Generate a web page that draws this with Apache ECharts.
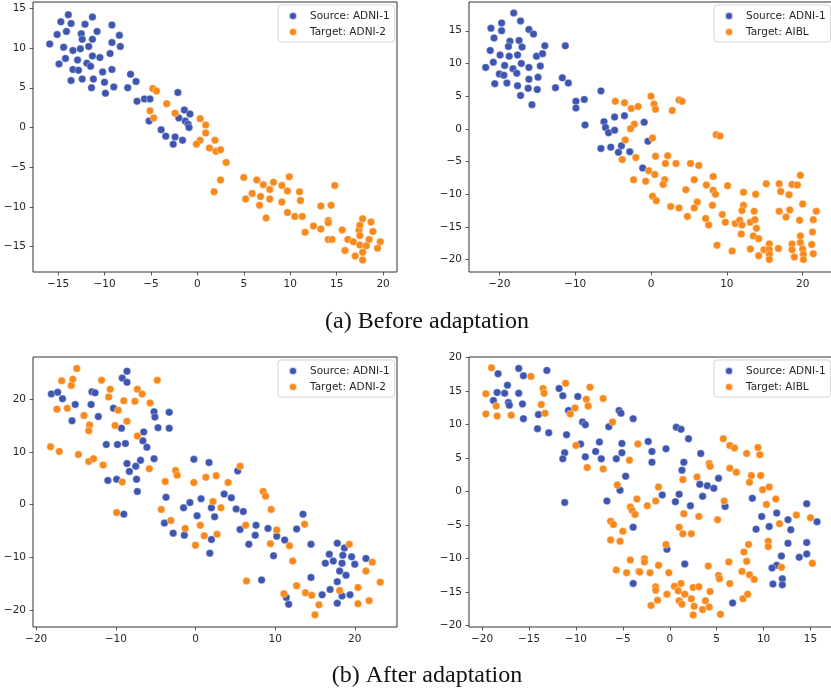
<!DOCTYPE html>
<html>
<head>
<meta charset="utf-8">
<title>Before / after adaptation</title>
<script src="https://cdn.jsdelivr.net/npm/echarts@6/dist/echarts.min.js"></script>
<style>
  html, body { margin: 0; padding: 0; background: #fff; }
  #chart { width: 831px; height: 692px; }
</style>
</head>
<body>
<div id="chart"></div>
<script>
var SRC = 'Source: ADNI-1';
var TGT_ADNI2 = 'Target: ADNI-2';
var TGT_AIBL = 'Target: AIBL';
var BLUE = '#3e56b0';
var ORANGE = '#f8891c';

// (a) before adaptation, ADNI-1 -> ADNI-2
var beforeAdni2Src = [[-15.9,10.5],[-14.7,13.3],[-15.1,11.7],[-13.9,14.2],[-13.6,13.1],[-14.1,12.1],[-14.4,10.1],[-13.4,9.7],[-14.9,8.0],[-14.2,8.7],[-12.9,8.5],[-13.4,7.3],[-12.8,7.2],[-13.6,5.9],[-12.6,9.9],[-12.5,11.8],[-12.4,11.1],[-12.1,13.0],[-11.3,13.9],[-10.8,12.1],[-11.3,11.1],[-11.7,10.2],[-11.9,8.1],[-11.5,7.7],[-11.3,9.0],[-12.4,6.1],[-11.2,6.1],[-11.4,5.0],[-10.5,8.8],[-10.2,7.0],[-10.0,5.7],[-9.9,4.3],[-9.2,12.9],[-9.2,10.7],[-9.4,9.3],[-9.2,7.3],[-9.0,5.1],[-8.4,11.6],[-8.3,10.2],[-7.5,5.0],[-7.2,6.7],[-6.6,5.8],[-6.5,3.3],[-5.7,3.6],[-5.1,3.6],[-5.2,0.8],[-3.9,-0.3],[-3.4,-1.1],[-2.6,-2.1],[-2.4,-1.2],[-2.1,4.4],[-2.0,1.2],[-1.4,2.2],[-0.8,1.7],[-1.3,0.8],[-1.0,0.4],[-0.9,0.0],[-1.6,-1.6]];
var beforeAdni2Tgt = [[-4.8,4.9],[-4.4,4.6],[-3.3,3.0],[-5.1,2.1],[-4.7,1.2],[-2.4,1.8],[0.3,1.1],[0.3,-1.6],[-0.1,-2.1],[0.9,0.3],[0.9,-0.7],[1.3,-2.6],[1.9,-1.6],[2.0,-3.0],[2.5,-2.8],[3.1,-4.4],[2.5,-6.6],[1.8,-8.1],[5.0,-6.3],[5.2,-9.0],[5.9,-8.3],[6.4,-6.6],[6.7,-9.8],[6.8,-8.7],[7.1,-7.2],[7.4,-11.4],[7.8,-7.8],[7.8,-9.0],[8.2,-6.9],[9.1,-7.3],[9.1,-9.4],[9.7,-8.0],[9.9,-6.2],[9.7,-10.7],[10.5,-11.2],[11.0,-8.1],[11.1,-9.2],[11.3,-11.2],[11.6,-13.2],[12.5,-12.4],[13.3,-9.9],[13.3,-12.8],[14.1,-11.7],[14.1,-12.0],[14.4,-9.8],[14.8,-7.3],[14.1,-14.1],[14.5,-14.1],[15.6,-12.9],[15.9,-15.5],[16.2,-14.1],[16.8,-14.4],[17.0,-16.2],[17.4,-12.9],[17.5,-12.3],[17.5,-13.6],[17.5,-14.8],[17.8,-11.5],[17.8,-15.7],[17.8,-16.7],[18.2,-14.9],[18.5,-14.1],[18.7,-11.9],[18.9,-13.1],[19.4,-15.2],[19.7,-14.4]];

// (a) before adaptation, ADNI-1 -> AIBL
var beforeAiblSrc = [[-18.1,17.7],[-17.2,16.5],[-19.7,16.2],[-21.1,15.4],[-19.7,15.0],[-16.1,15.2],[-15.5,14.5],[-20.7,13.9],[-18.6,13.4],[-17.4,13.5],[-18.8,12.6],[-17.0,12.5],[-21.2,12.0],[-19.9,11.3],[-18.7,11.1],[-17.6,11.3],[-15.1,11.1],[-20.8,10.2],[-19.3,9.7],[-18.2,9.2],[-17.1,10.0],[-14.6,9.6],[-16.1,9.4],[-21.8,9.4],[-20.0,8.4],[-19.4,8.2],[-17.7,8.5],[-14.9,7.9],[-16.1,7.6],[-20.6,6.9],[-19.0,7.0],[-17.6,6.6],[-16.2,6.2],[-15.0,6.0],[-17.2,5.1],[-15.7,3.7],[-14.0,12.7],[-14.3,11.5],[-11.3,12.7],[-11.7,7.8],[-10.9,7.0],[-12.6,6.3],[-9.9,4.2],[-9.9,3.2],[-8.8,4.5],[-8.7,0.6],[-6.6,5.8],[-6.2,1.1],[-6.0,0.2],[-5.6,-0.6],[-4.8,1.8],[-4.8,-0.2],[-3.5,2.0],[-6.6,-3.0],[-5.3,-2.8],[-3.9,-2.6],[-4.3,-3.6],[-2.8,-3.5],[-0.9,1.0],[-0.4,-1.9],[-1.1,-6.0]];
var beforeAiblTgt = [[-4.7,4.2],[-3.5,4.0],[-2.6,3.1],[-1.7,3.4],[-2.2,0.7],[-2.7,0.0],[-3.4,-1.7],[-2.0,-4.4],[-3.8,-4.7],[-2.3,-7.8],[0.0,5.0],[0.4,3.8],[0.6,3.0],[2.8,2.8],[3.7,4.4],[4.1,4.2],[0.2,-1.4],[8.6,-0.9],[9.1,-1.1],[0.6,-4.2],[2.2,-4.1],[1.9,-5.3],[3.3,-5.3],[5.2,-5.3],[6.3,-5.6],[-0.3,-6.4],[0.5,-7.0],[-0.7,-8.0],[1.8,-7.8],[1.6,-8.5],[5.7,-7.8],[8.2,-7.3],[7.3,-8.6],[10.1,-8.7],[4.6,-9.3],[8.2,-9.4],[8.5,-10.0],[0.2,-10.3],[0.7,-11.0],[2.6,-11.9],[3.7,-12.1],[6.1,-11.2],[5.7,-12.1],[8.1,-11.7],[4.8,-13.4],[7.2,-13.7],[7.6,-14.7],[9.8,-14.3],[9.4,-13.1],[12.2,-9.7],[13.8,-10.0],[12.2,-11.7],[12.0,-12.5],[13.6,-12.6],[11.1,-14.5],[11.7,-14.0],[12.0,-14.7],[13.1,-14.3],[13.7,-13.9],[13.9,-15.2],[11.9,-16.1],[13.5,-16.4],[14.2,-16.8],[8.7,-17.8],[10.7,-18.7],[13.1,-18.4],[14.2,-19.4],[14.9,-18.5],[15.6,-17.6],[15.6,-18.5],[15.6,-19.2],[15.6,-20.0],[15.2,-8.4],[16.9,-8.4],[17.1,-9.6],[18.6,-8.5],[19.3,-8.6],[19.7,-7.1],[18.2,-10.1],[16.9,-12.6],[18.3,-12.4],[17.8,-13.5],[20.0,-11.5],[21.8,-12.6],[19.6,-14.0],[21.4,-13.9],[21.3,-15.8],[19.7,-16.4],[18.6,-17.6],[16.8,-18.3],[18.6,-18.5],[19.7,-17.4],[20.0,-18.4],[20.1,-19.2],[20.1,-20.0],[18.9,-19.6],[21.2,-17.7],[21.4,-19.1]];

// (b) after adaptation, ADNI-1 -> ADNI-2
var afterAdni2Src = [[-18.1,21.0],[-17.3,21.3],[-16.7,20.1],[-15.1,19.0],[-15.5,15.9],[-13.0,21.4],[-12.6,21.2],[-13.1,19.0],[-12.2,16.7],[-11.2,11.4],[-11.0,4.6],[-9.9,4.8],[-10.3,18.3],[-9.8,11.4],[-9.3,14.5],[-9.2,24.0],[-8.6,25.3],[-8.6,23.2],[-8.8,11.6],[-8.6,7.8],[-8.3,6.3],[-7.5,7.3],[-7.4,4.8],[-7.3,2.5],[-6.9,8.4],[-6.5,13.8],[-6.6,12.1],[-6.1,10.9],[-5.2,8.7],[-5.2,17.6],[-5.1,16.6],[-4.7,14.6],[-3.3,17.5],[-3.3,14.5],[-3.7,1.4],[-3.9,-3.5],[-2.8,-5.4],[-1.4,-5.8],[-1.5,-0.6],[-0.7,0.4],[0.2,-2.1],[0.7,1.1],[-0.2,8.6],[-9.0,-1.8],[1.7,8.0],[2.0,-0.6],[2.4,-2.3],[2.0,-6.6],[1.8,-9.2],[3.6,2.0],[4.5,1.3],[5.1,-0.8],[5.3,6.4],[5.6,-4.7],[6.0,-1.3],[6.7,-7.5],[7.5,-5.8],[7.6,-3.9],[8.3,-14.3],[9.1,-4.5],[9.8,-9.7],[10.2,-6.0],[11.2,-6.7],[11.7,-18.9],[11.4,-17.6],[12.7,-4.6],[13.5,-1.8],[14.5,-7.5],[14.5,-13.8],[15.9,-17.1],[16.3,-11.1],[16.8,-9.4],[17.3,-10.7],[17.8,-7.3],[18.4,-11.1],[18.5,-9.6],[18.1,-12.6],[18.7,-8.2],[18.9,-13.4],[17.8,-14.6],[16.9,-16.1],[17.8,-18.7],[18.4,-17.3],[19.4,-17.1],[19.6,-9.9],[20.0,-11.3],[21.4,-10.2]];
var afterAdni2Tgt = [[-18.2,11.0],[-17.4,18.1],[-17.1,10.1],[-16.8,23.5],[-16.1,18.3],[-15.6,22.6],[-15.4,23.8],[-14.9,25.8],[-14.7,9.5],[-14.0,16.9],[-13.3,15.1],[-13.4,14.0],[-13.4,8.2],[-12.8,8.7],[-11.8,23.6],[-11.6,7.5],[-10.9,20.4],[-10.7,21.9],[-10.1,15.0],[-9.7,17.9],[-9.0,19.7],[-8.6,15.8],[-9.9,-1.5],[-9.2,4.3],[-7.6,19.6],[-7.3,21.9],[-6.7,21.0],[-7.3,13.0],[-5.8,6.8],[-5.7,19.3],[-4.8,23.6],[-3.8,4.4],[-4.3,-0.9],[-3.1,-3.0],[-2.5,6.5],[-2.3,5.6],[-1.3,-4.5],[-0.2,4.2],[0.6,-3.9],[0.0,-7.7],[1.1,-5.9],[1.3,5.2],[2.2,0.6],[2.7,-5.6],[2.6,5.5],[3.2,-0.6],[4.1,4.2],[5.6,7.3],[6.3,-3.9],[6.4,-14.5],[8.5,2.5],[8.8,1.6],[9.5,-0.9],[9.4,-7.4],[10.2,-4.8],[11.8,-7.8],[12.2,-10.7],[12.7,-15.4],[11.1,-16.9],[13.7,-3.7],[13.8,-16.7],[14.6,-17.2],[15.5,-19.0],[15.0,-20.9],[18.1,-16.3],[19.3,-7.5],[20.4,-15.7],[20.4,-18.8],[21.4,-12.6],[22.2,-10.9],[21.8,-18.2],[23.2,-14.7]];

// (b) after adaptation, ADNI-1 -> AIBL
var afterAiblSrc = [[-16.1,18.4],[-15.6,17.3],[-18.3,17.6],[-17.6,14.7],[-18.4,14.8],[-17.3,15.9],[-18.8,13.6],[-17.2,13.3],[-17.1,12.9],[-16.1,14.7],[-15.7,13.1],[-15.6,10.9],[-14.0,11.5],[-14.1,9.4],[-12.9,8.8],[-13.1,18.1],[-11.8,15.4],[-11.4,14.3],[-10.8,12.1],[-11.0,8.5],[-11.2,5.8],[-11.4,4.9],[-9.8,14.2],[-9.3,10.4],[-9.0,10.0],[-9.5,7.1],[-9.0,5.2],[-7.9,6.0],[-7.5,7.4],[-7.3,4.9],[-6.5,9.7],[-5.4,12.1],[-5.2,11.7],[-3.9,10.9],[-5.7,4.9],[-5.1,7.2],[-5.1,5.8],[-4.7,2.3],[-5.3,0.2],[-6.7,-1.4],[-11.2,-1.6],[-3.9,-5.3],[-3.9,-13.7],[-2.3,7.5],[-1.9,6.0],[-1.9,4.4],[-0.4,6.4],[-0.8,-0.5],[0.6,-1.5],[0.7,9.6],[1.2,9.3],[2.0,7.9],[1.5,4.4],[1.3,3.2],[1.0,-0.4],[2.2,-2.1],[3.3,5.7],[3.2,1.1],[3.5,-0.7],[4.0,0.9],[4.7,0.5],[5.2,2.0],[5.9,-2.2],[-0.3,-8.6],[1.6,-10.8],[6.7,-16.6],[8.8,-1.0],[9.2,-5.6],[9.8,-3.7],[10.6,-5.2],[11.4,-3.2],[12.6,-4.2],[12.9,-5.7],[12.6,-7.7],[13.8,-9.8],[14.6,-1.8],[14.6,-7.6],[15.7,-4.5],[14.6,-9.3],[11.9,-9.6],[11.4,-11.0],[10.9,-11.4],[11.0,-13.8],[12.0,-13.0],[12.0,-13.9]];
var afterAiblTgt = [[-19.0,18.5],[-14.8,17.2],[-19.6,14.6],[-18.5,12.8],[-19.6,11.6],[-18.4,11.3],[-16.9,11.4],[-13.7,13.0],[-13.5,15.4],[-13.4,14.7],[-13.3,11.7],[-11.1,16.2],[-10.1,12.5],[-10.6,11.6],[-8.9,13.8],[-8.7,12.8],[-8.5,15.6],[-10.0,6.9],[-8.8,3.6],[-7.1,13.9],[-6.1,10.4],[-7.1,3.4],[-5.6,1.0],[-4.3,4.7],[-3.4,7.1],[-3.5,-1.1],[-4.2,-2.3],[-4.0,-2.8],[-3.7,-3.4],[-6.3,-4.4],[-6.0,-4.9],[-5.0,-5.9],[-6.3,-7.2],[-5.3,-7.4],[-5.7,-11.7],[-4.6,-12.1],[-4.2,-10.2],[-3.3,-11.9],[-2.4,-2.1],[-1.5,-1.4],[-1.2,0.7],[1.4,1.8],[1.5,-3.3],[1.0,-5.3],[1.4,-6.3],[2.3,-6.3],[3.1,-3.7],[2.9,2.2],[4.2,4.2],[4.3,3.8],[-0.4,-7.9],[5.7,7.9],[6.4,6.9],[6.9,6.5],[6.4,3.5],[7.1,2.9],[5.8,-1.4],[5.1,-4.2],[8.2,5.7],[9.4,6.6],[9.6,5.5],[8.7,2.4],[8.5,1.4],[9.7,2.4],[9.9,0.3],[10.6,0.7],[11.3,-1.1],[10.3,-1.9],[11.7,-4.8],[13.5,-3.5],[15.0,-3.9],[8.4,-7.9],[7.9,-9.0],[8.2,-10.4],[7.7,-11.9],[8.5,-12.4],[9.0,-13.1],[10.5,-7.4],[10.5,-8.2],[11.9,-11.3],[6.3,-10.5],[4.1,-11.1],[5.2,-12.5],[5.3,-13.0],[6.4,-13.7],[15.2,-10.7],[-2.7,-10.0],[-2.7,-10.5],[-1.2,-11.0],[-3.2,-12.0],[-2.1,-12.1],[-0.1,-12.1],[1.2,-13.7],[0.5,-14.1],[-1.5,-14.2],[-1.5,-14.7],[-0.3,-15.3],[-1.3,-16.2],[0.9,-14.8],[1.6,-15.3],[2.5,-14.3],[3.1,-14.2],[4.3,-14.9],[2.3,-16.0],[1.0,-16.3],[1.3,-16.8],[-2.0,-17.0],[2.6,-17.1],[2.5,-18.4],[3.8,-16.3],[3.5,-17.6],[4.2,-17.2],[5.4,-18.3],[7.8,-16.0],[8.3,-15.3]];

// tick labels per panel
var ticksX1 = [-15, -10, -5, 0, 5, 10, 15, 20];
var ticksY1 = [-15, -10, -5, 0, 5, 10, 15];
var ticksX2 = [-20, -10, 0, 10, 20];
var ticksY2 = [-20, -15, -10, -5, 0, 5, 10, 15];
var ticksX3 = [-20, -10, 0, 10, 20];
var ticksY3 = [-20, -10, 0, 10, 20];
var ticksX4 = [-20, -15, -10, -5, 0, 5, 10, 15];
var ticksY4 = [-20, -15, -10, -5, 0, 5, 10, 15, 20];

var FONT = 'DejaVu Sans';

function makeGrid(left, top) {
  return {
    left: left, top: top, width: 364, height: 270,
    containLabel: false, outerBoundsMode: 'none',
    show: true, borderColor: '#333', borderWidth: 1, backgroundColor: 'transparent'
  };
}

function makeAxis(grid, min, max, ticks, margin) {
  return {
    type: 'value', gridIndex: grid, min: min, max: max,
    splitLine: { show: false },
    axisLine: { show: false, onZero: false },
    axisTick: { show: true, length: 3.5, customValues: ticks, lineStyle: { color: '#333', width: 0.8 } },
    axisLabel: {
      customValues: ticks, margin: margin, fontSize: 10.5, fontFamily: FONT, color: '#262626',
      formatter: function (v) { return String(v).replace('-', '\u2212'); }
    }
  };
}

function makeScatter(name, data, idx, color) {
  return {
    type: 'scatter', name: name, data: data,
    xAxisIndex: idx, yAxisIndex: idx,
    symbolSize: 7.5,
    itemStyle: { color: color, borderColor: 'rgba(255,255,255,0.7)', borderWidth: 0.5, opacity: 1 },
    emphasis: { disabled: true }
  };
}

function makeLegend(left, top, names) {
  return {
    left: left, top: top, orient: 'vertical',
    data: names.map(function (n) { return { name: n, icon: 'circle' }; }),
    itemWidth: 24, itemHeight: 8, itemGap: 4,
    padding: [5, 5, 4, 10],
    borderColor: '#d5d5d5', borderWidth: 1, borderRadius: 3,
    backgroundColor: 'rgba(255,255,255,0.8)',
    selectedMode: false,
    textStyle: { fontSize: 10.5, fontFamily: FONT, color: '#262626', lineHeight: 12 }
  };
}

function makeCaption(text, top) {
  return {
    text: text, left: 422, top: top, textAlign: 'center',
    textStyle: { fontFamily: 'Liberation Serif', fontSize: 24, fontWeight: 'normal', color: '#111' }
  };
}

var chart = echarts.init(document.getElementById('chart'), null, { renderer: 'canvas' });

chart.setOption({
  animation: false,
  backgroundColor: '#fff',
  title: [
    makeCaption('(a) Before adaptation', 305),
    makeCaption('(b) After adaptation', 659)
  ],
  legend: [
    makeLegend(278, 5, [SRC, TGT_ADNI2]),
    makeLegend(714, 5, [SRC, TGT_AIBL]),
    makeLegend(278, 360, [SRC, TGT_ADNI2]),
    makeLegend(714, 360, [SRC, TGT_AIBL])
  ],
  grid: [
    makeGrid(33, 2),
    makeGrid(469, 2),
    makeGrid(33, 357),
    makeGrid(469, 357)
  ],
  xAxis: [
    makeAxis(0, -17.7, 21.5, ticksX1, 7),
    makeAxis(1, -24.0, 24.0, ticksX2, 7),
    makeAxis(2, -20.4, 25.3, ticksX3, 7),
    makeAxis(3, -21.4, 17.4, ticksX4, 7)
  ],
  yAxis: [
    makeAxis(0, -18.2, 15.8, ticksY1, 7),
    makeAxis(1, -21.9, 19.4, ticksY2, 7),
    makeAxis(2, -23.2, 28.0, ticksY3, 7),
    makeAxis(3, -20.2, 20.1, ticksY4, 7)
  ],
  series: [
    makeScatter(SRC, beforeAdni2Src, 0, BLUE),
    makeScatter(TGT_ADNI2, beforeAdni2Tgt, 0, ORANGE),
    makeScatter(SRC, beforeAiblSrc, 1, BLUE),
    makeScatter(TGT_AIBL, beforeAiblTgt, 1, ORANGE),
    makeScatter(SRC, afterAdni2Src, 2, BLUE),
    makeScatter(TGT_ADNI2, afterAdni2Tgt, 2, ORANGE),
    makeScatter(SRC, afterAiblSrc, 3, BLUE),
    makeScatter(TGT_AIBL, afterAiblTgt, 3, ORANGE)
  ]
});
</script>
</body>
</html>
